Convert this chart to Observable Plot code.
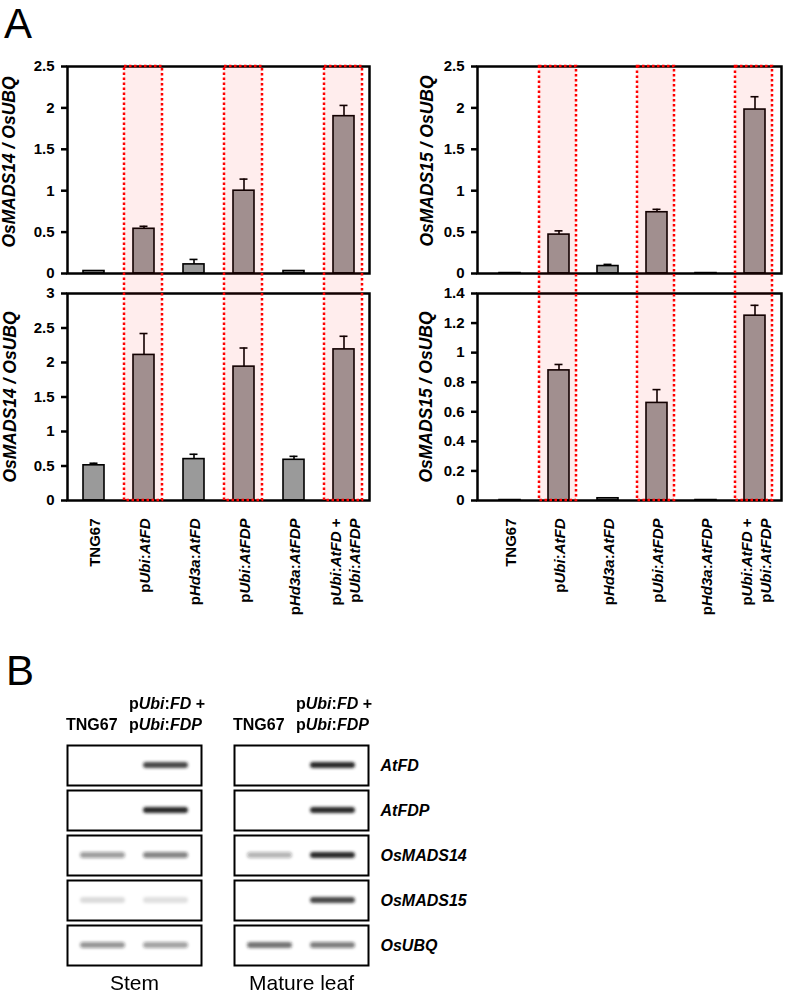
<!DOCTYPE html>
<html><head><meta charset="utf-8">
<script src="https://cdn.jsdelivr.net/npm/d3@7"></script>
<script src="https://cdn.jsdelivr.net/npm/@observablehq/plot@0.6"></script>
<style>
body{margin:0;background:#fff;}
#fig{position:relative;width:787px;height:997px;overflow:hidden;font-family:"Liberation Sans",Arial,Helvetica,sans-serif;}
.letter{position:absolute;font-size:42px;line-height:47px;color:#000;}
</style></head><body><div id="fig"></div>
<script>
// ---------- Panel A data ----------
const samples = ["TNG67", "pUbi:AtFD", "pHd3a:AtFD", "pUbi:AtFDP", "pHd3a:AtFDP", "pUbi:AtFD +\npUbi:AtFDP"];
const highlighted = ["pUbi:AtFD", "pUbi:AtFDP", "pUbi:AtFD +\npUbi:AtFDP"];

const mads14TopValues = [0.03, 0.54, 0.11, 1.00, 0.03, 1.90];
const mads14TopErrors = [0, 0.03, 0.06, 0.14, 0, 0.13];
const mads15TopValues = [0.005, 0.47, 0.09, 0.74, 0.005, 1.98];
const mads15TopErrors = [0, 0.045, 0.02, 0.035, 0, 0.155];
const mads14BottomValues = [0.51, 2.11, 0.60, 1.94, 0.59, 2.19];
const mads14BottomErrors = [0.03, 0.31, 0.07, 0.27, 0.05, 0.19];
const mads15BottomValues = [0.003, 0.88, 0.015, 0.66, 0.003, 1.25];
const mads15BottomErrors = [0, 0.04, 0, 0.09, 0, 0.07];

const ticks25 = [0, 0.5, 1, 1.5, 2, 2.5];
const ticks3 = [0, 0.5, 1, 1.5, 2, 2.5, 3];
const ticks14 = [0, 0.2, 0.4, 0.6, 0.8, 1, 1.2, 1.4];

const label14 = "OsMADS14 / OsUBQ";
const label15 = "OsMADS15 / OsUBQ";

// ---------- Panel B data ----------
const gelGenes = ["AtFD", "AtFDP", "OsMADS14", "OsMADS15", "OsUBQ"];
const gelTissues = ["Stem", "Mature leaf"];
const gelSamples = ["TNG67", "pUbi:FD +\npUbi:FDP"];
const stemTNG67 = [0, 0, 0.42, 0.14, 0.45];
const stemDouble = [0.8, 0.95, 0.52, 0.12, 0.4];
const leafTNG67 = [0, 0, 0.32, 0, 0.62];
const leafDouble = [0.95, 0.92, 0.92, 0.8, 0.55];

// ---------- helpers ----------
const FONT = '"Liberation Sans", Arial, Helvetica, sans-serif';
const fig = document.getElementById("fig");
const SVGNS = "http://www.w3.org/2000/svg";

function segments(s) {
  if (!/^p[A-Z]/.test(s)) return [[s, false]];
  const out = [["p", false]];
  let rest = s.slice(1), tail = "";
  if (rest.endsWith(" +")) { tail = " +"; rest = rest.slice(0, -2); }
  rest.split(":").forEach((p, i) => { if (i) out.push([":", false]); out.push([p, true]); });
  if (tail) out.push([tail, false]);
  return out;
}
function italicize(svg, selector) {
  svg.querySelectorAll(selector + " text").forEach(text => {
    const spans = text.querySelectorAll("tspan");
    const targets = spans.length ? Array.from(spans) : [text];
    targets.forEach(node => {
      const s = node.textContent;
      node.textContent = "";
      for (const [str, it] of segments(s)) {
        const t = document.createElementNS(SVGNS, "tspan");
        if (it) t.setAttribute("font-style", "italic");
        t.textContent = str;
        node.appendChild(t);
      }
    });
  });
}
function place(el, left, top, z) {
  el.style.position = "absolute";
  el.style.left = left + "px";
  el.style.top = top + "px";
  el.style.zIndex = z || 1;
  fig.appendChild(el);
  return el;
}

function barChart(o) {
  const rows = samples.map((s, i) => ({sample: s, value: o.values[i], err: o.errors[i]}));
  const withErr = rows.filter(d => d.err > 0);
  const marks = [
    Plot.barY(rows, {x: "sample", y: "value", fill: "#9a9a9a", stroke: "black", strokeWidth: 1.6}),
    Plot.ruleX(withErr, {x: "sample", y1: "value", y2: d => d.value + d.err, stroke: "black", strokeWidth: 1.6}),
    Plot.tickY(withErr, {x: "sample", y: d => d.value + d.err, stroke: "black", strokeWidth: 1.6, insetLeft: 6.5, insetRight: 6.5}),
    Plot.frame({stroke: "black", strokeWidth: 2.5}),
    Plot.axisY(o.ticks, {tickSize: 6, tickPadding: 7, fontSize: 15, fontWeight: "bold", strokeWidth: 2.5, label: null, tickFormat: d => String(d)}),
    Plot.text([o.label], {text: d => d, frameAnchor: "left", textAnchor: "middle", rotate: -90, dx: o.labelDx, dy: o.labelDy, fontSize: 17.5, fontWeight: "bold", fontStyle: "italic"})
  ];
  if (o.showX) marks.push(Plot.axisX({tickSize: 0, tickPadding: 18, tickRotate: -90, fontSize: 15, fontWeight: "bold", lineHeight: 1.3, label: null}));
  const svg = Plot.plot({
    width: o.width, height: o.height,
    marginLeft: o.mL, marginRight: o.mR, marginTop: o.mT, marginBottom: o.mB,
    x: {domain: samples, paddingInner: 0.58, paddingOuter: 0.29, insetLeft: o.inset, axis: o.showX ? undefined : null, label: null},
    y: {domain: [0, o.yMax], label: null},
    style: {fontFamily: FONT, background: "transparent", overflow: "visible", color: "black"},
    marks
  });
  if (o.showX) italicize(svg, 'g[aria-label="x-axis tick label"]');
  return svg;
}

function overlay(o) {
  const svg = Plot.plot({
    width: o.width, height: 450,
    marginLeft: o.mL, marginRight: o.mR, marginTop: 16, marginBottom: 0,
    x: {domain: samples, paddingInner: 0.235, paddingOuter: 0.1175, insetLeft: o.inset, axis: null},
    style: {background: "transparent", overflow: "visible"},
    marks: [
      Plot.cell(highlighted, {x: d => d, fill: "red", fillOpacity: 0.07, stroke: "red", strokeWidth: 2.5, strokeDasharray: "2.5,2.5"})
    ]
  });
  svg.style.pointerEvents = "none";
  return svg;
}

// ---------- Panel A ----------
place(barChart({values: mads14TopValues, errors: mads14TopErrors, yMax: 2.5, ticks: ticks25, label: label14,
  width: 372, height: 231, mL: 67, mR: 3, mT: 16, mB: 8, inset: 0, showX: false, labelDx: -58, labelDy: -8}), 0, 50);
place(barChart({values: mads15TopValues, errors: mads15TopErrors, yMax: 2.5, ticks: ticks25, label: label15,
  width: 397, height: 231, mL: 87, mR: 6, mT: 16, mB: 8, inset: 5, showX: false, labelDx: -50, labelDy: -9}), 390, 50);
place(barChart({values: mads14BottomValues, errors: mads14BottomErrors, yMax: 3, ticks: ticks3, label: label14,
  width: 372, height: 350, mL: 67, mR: 3, mT: 13, mB: 130, inset: 0, showX: true, labelDx: -57, labelDy: 0}), 0, 280);
place(barChart({values: mads15BottomValues, errors: mads15BottomErrors, yMax: 1.4, ticks: ticks14, label: label15,
  width: 397, height: 350, mL: 87, mR: 6, mT: 13, mB: 130, inset: 5, showX: true, labelDx: -51, labelDy: 0}), 390, 280);

place(overlay({width: 372, mL: 67, mR: 3, inset: 0}), 0, 50, 5);
place(overlay({width: 397, mL: 87, mR: 6, inset: 5}), 390, 50, 5);

// ---------- Panel B ----------
const levels = {"Stem": [stemTNG67, stemDouble], "Mature leaf": [leafTNG67, leafDouble]};
const gelRows = [];
gelTissues.forEach(t => gelGenes.forEach((g, gi) => gelSamples.forEach((s, si) =>
  gelRows.push({tissue: t, gene: g, sample: s, level: levels[t][si][gi]}))));

const gel = Plot.plot({
  width: 787, height: 327,
  marginLeft: 67, marginRight: 419, marginTop: 73, marginBottom: 30,
  fx: {domain: gelTissues, paddingInner: 0.2, paddingOuter: 0, label: null},
  fy: {domain: gelGenes, paddingInner: 0.11, paddingOuter: 0, label: null},
  x: {domain: gelSamples, paddingInner: 0.28, paddingOuter: 0.19, label: null},
  opacity: {type: "identity"},
  style: {fontFamily: FONT, background: "transparent", overflow: "visible", color: "black"},
  marks: [
    Plot.cell(gelRows, {fx: "tissue", fy: "gene", x: "sample", fill: "#1a1a1a", fillOpacity: "level", insetTop: 17, insetBottom: 17, rx: 3}),
    Plot.frame({stroke: "black", strokeWidth: 2}),
    Plot.axisX({anchor: "top", tickSize: 0, tickPadding: 16, fontSize: 16, fontWeight: "bold", lineHeight: 1.3, textAnchor: "start", dx: -37, label: null}),
    Plot.axisFy({anchor: "right", tickSize: 0, tickPadding: 12, fontSize: 16, fontWeight: "bold", fontStyle: "italic", label: null}),
    Plot.axisFx({anchor: "bottom", tickSize: 0, tickPadding: 10, fontSize: 21, label: null})
  ]
});
italicize(gel, 'g[aria-label="x-axis tick label"]');
// soft gel-band look
const defs = document.createElementNS(SVGNS, "defs");
defs.innerHTML = '<filter id="gelblur" x="-20%" y="-300%" width="140%" height="700%"><feGaussianBlur stdDeviation="1.6"/></filter>';
gel.insertBefore(defs, gel.firstChild);
gel.querySelectorAll('g[aria-label="cell"]').forEach(g => g.setAttribute("filter", "url(#gelblur)"));
place(gel, 0, 670);

// ---------- panel letters ----------
const A = document.createElement("div"); A.className = "letter"; A.textContent = "A"; place(A, 4, 0, 6);
const B = document.createElement("div"); B.className = "letter"; B.textContent = "B"; place(B, 6, 647, 6);
</script></body></html>
